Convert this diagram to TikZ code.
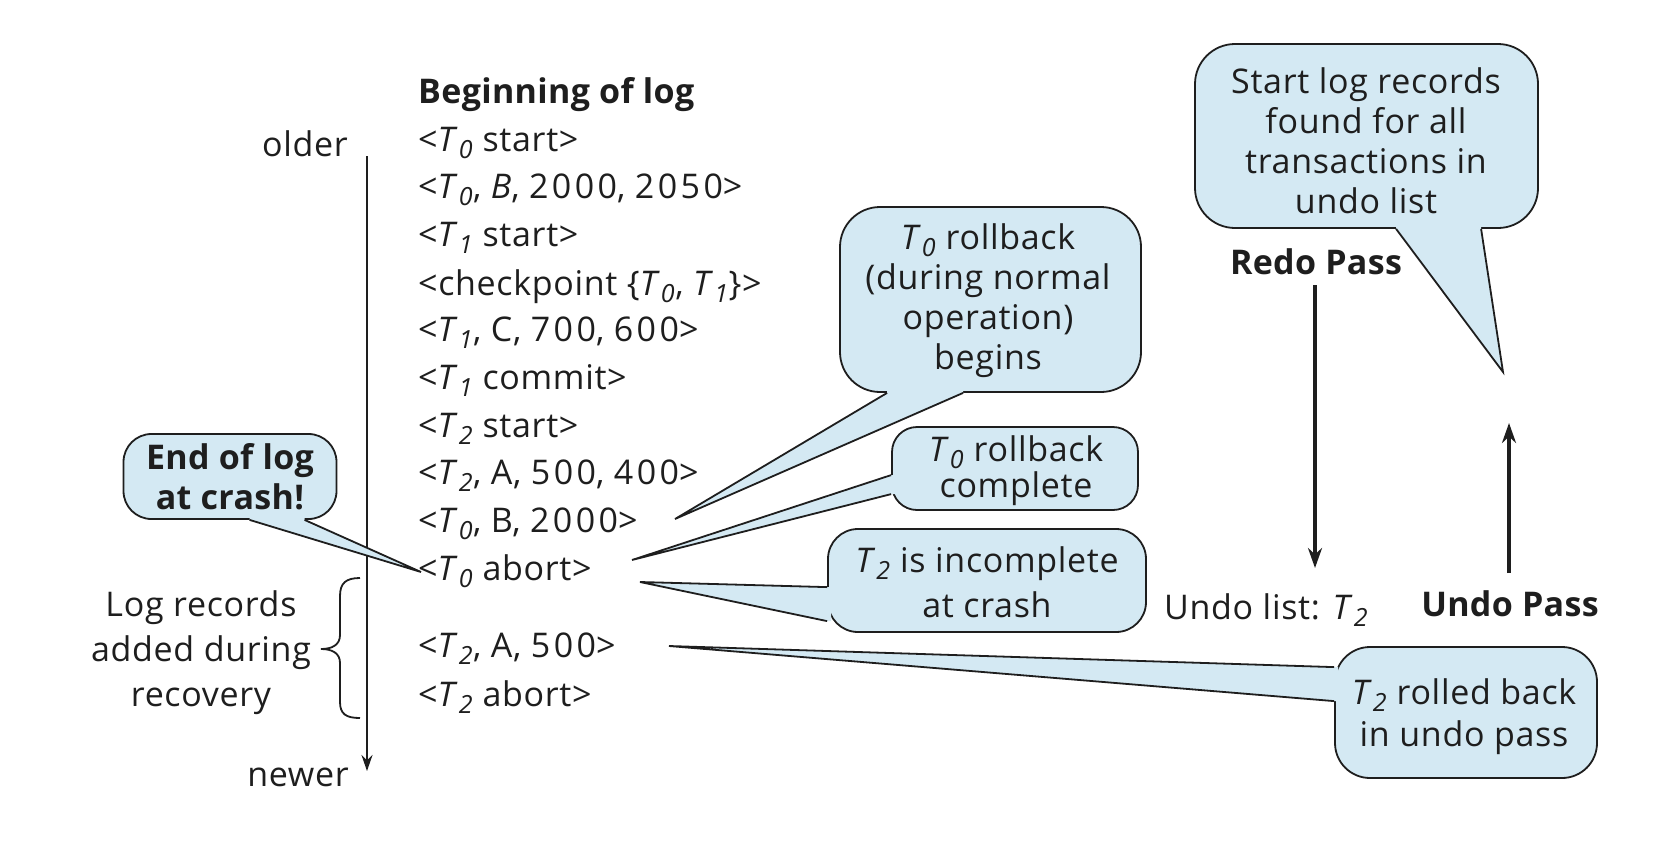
\documentclass[tikz,border=0pt]{standalone}
\usepackage{fontspec}
\setmainfont{Open Sans}[LetterSpace=2, BoldFeatures={LetterSpace=1}]
\usetikzlibrary{arrows.meta,calc}
\definecolor{callfill}{HTML}{D4E9F3}
\definecolor{ink}{HTML}{1E1E1E}
\newcommand{\Tx}[1]{\textit{T}\kern0.5pt\raisebox{-7pt}{\fontsize{25}{25}\selectfont\textit{#1}}}
\newcommand{\dg}[1]{{\addfontfeature{LetterSpace=10}#1}}
\newcommand{\callptr}[4]{%
  \fill[callfill] (#1) -- (#3) -- (#2) -- ($(#2)+#4$) -- ($(#1)+#4$) -- cycle;
  \draw[ptrline] (#1) -- (#3) -- (#2);}
\tikzset{
  call/.style={draw=ink, fill=callfill, line width=1.8pt, inner sep=0pt},
  ctext/.style={inner sep=0pt, align=center, text=ink},
  ptrline/.style={draw=ink, line width=1.8pt, line join=miter},
  logrec/.style={anchor=base west, inner sep=0pt, text=ink},
  lbl/.style={anchor=base, inner sep=0pt, text=ink},
  passarrow/.style={draw=ink, line width=3.5pt, -{Stealth[length=20pt,width=14pt]}},
}
\begin{document}
\begin{tikzpicture}[x=1pt,y=-1pt,font=\fontsize{34}{40}\selectfont]
\useasboundingbox[fill=white] (0,0) rectangle (1660,852);

% log records
\node[logrec] (beg) at (418,103) {\bfseries Beginning of log};
\node[logrec] (r1) at (418,151) {<\Tx{0} start>};
\node[logrec] (r2) at (418,198) {<\Tx{0}, \textit{B}, \dg{2000}, \dg{2050}>};
\node[logrec] (r3) at (418,246) {<\Tx{1} start>};
\node[logrec] (r4) at (418,295) {<checkpoint \{\Tx{0}, \Tx{1}\}>};
\node[logrec] (r5) at (418,341) {<\Tx{1}, C, \dg{700}, \dg{600}>};
\node[logrec] (r6) at (418,389) {<\Tx{1} commit>};
\node[logrec] (r7) at (418,437) {<\Tx{2} start>};
\node[logrec] (r8) at (418,484) {<\Tx{2}, A, \dg{500}, \dg{400}>};
\node[logrec] (r9) at (418,532) {<\Tx{0}, B, \dg{2000}>};
\node[logrec] (r10) at (418,580) {<\Tx{0} abort>};
\node[logrec] (r11) at (418,657) {<\Tx{2}, A, \dg{500}>};
\node[logrec] (r12) at (418,706) {<\Tx{2} abort>};

% timeline
\node[lbl] (older) at (305,156) {older};
\node[lbl] (newer) at (298,786) {newer};
\coordinate (tlTop) at (367,156);
\coordinate (tlBot) at (367,771);
\draw[draw=ink, line width=1.8pt, -{Stealth[length=16pt,width=11pt]}] (tlTop) -- (tlBot);

% brace and label
\draw[draw=ink, line width=1.8pt] (360,578) .. controls (346,578) and (340,583) .. (340,596) -- (340,635)
  .. controls (340,645) and (332,649) .. (321,649) .. controls (332,649) and (340,653) .. (340,663)
  -- (340,702) .. controls (340,714) and (346,718) .. (360,718);
\node[lbl] (lr1) at (201,616) {Log records};
\node[lbl] (lr2) at (201,661) {added during};
\node[lbl] (lr3) at (201,706) {recovery};

% right side
\node[lbl] (redo) at (1316,274) {\bfseries Redo Pass};
\node[logrec] (undolist) at (1164,619) {Undo list: \Tx{2}};
\node[lbl] (undo) at (1510,616) {\bfseries Undo Pass};
\coordinate (redoS) at (1315,285);
\coordinate (redoE) at (1315,568);
\coordinate (undoS) at (1509,573);
\coordinate (undoE) at (1509,423);
\draw[passarrow] (redoS) -- (redoE);
\draw[passarrow] (undoS) -- (undoE);

% callouts
\node[call, rounded corners=28pt, minimum width=213pt, minimum height=85pt] (endlog) at (230,476.5) {};
\coordinate (elA) at ($(endlog.south west)+(127,0)$);
\coordinate (elB) at ($(endlog.south west)+(182,0)$);
\coordinate (elT) at (421,572);
\callptr{elA}{elB}{elT}{(0,-4)}
\node[ctext] (endlogT) at (230,477) {\bfseries End of log\\\bfseries at crash!};

\node[call, rounded corners=40pt, minimum width=301pt, minimum height=185pt] (begins) at (990.5,299.5) {};
\coordinate (bgA) at ($(begins.south west)+(48,0)$);
\coordinate (bgB) at ($(begins.south west)+(124,0)$);
\coordinate (bgT) at (675,519);
\callptr{bgA}{bgB}{bgT}{(0,-4)}
\node[ctext] (beginsT) at (988,300.5) {\Tx{0} rollback\\(during normal\\operation)\\begins};

\node[call, rounded corners=25pt, minimum width=246pt, minimum height=83pt] (complete) at (1015,468.5) {};
\coordinate (cpA) at ($(complete.north west)+(0,49)$);
\coordinate (cpB) at ($(complete.north west)+(0,68)$);
\coordinate (cpT) at (632,560);
\callptr{cpA}{cpB}{cpT}{(4,0)}
\node[ctext, font=\fontsize{34}{36}\selectfont] (completeT) at (1016,470.5) {\Tx{0} rollback\\complete};

\node[call, rounded corners=30pt, minimum width=318pt, minimum height=103pt] (incomplete) at (987,580.5) {};
\coordinate (icA) at ($(incomplete.north west)+(0,59)$);
\coordinate (icB) at ($(incomplete.north west)+(0,93)$);
\coordinate (icT) at (640,582);
\callptr{icA}{icB}{icT}{(4,0)}
\node[ctext, font=\fontsize{34}{45}\selectfont] (incompleteT) at (987,582.5) {\Tx{2} is incomplete\\at crash};

\node[call, rounded corners=35pt, minimum width=262pt, minimum height=131pt] (rolled) at (1466,712.5) {};
\coordinate (rbA) at ($(rolled.north west)+(0,21)$);
\coordinate (rbB) at ($(rolled.north west)+(0,55)$);
\coordinate (rbT) at (669,646);
\callptr{rbA}{rbB}{rbT}{(4,0)}
\node[ctext, font=\fontsize{34}{42}\selectfont] (rolledT) at (1464,716.5) {\Tx{2} rolled back\\in undo pass};

\node[call, rounded corners=40pt, minimum width=343pt, minimum height=184pt] (startlog) at (1366.5,136) {};
\coordinate (slA) at ($(startlog.south west)+(202,0)$);
\coordinate (slB) at ($(startlog.south west)+(287,0)$);
\coordinate (slT) at (1503,372);
\callptr{slA}{slB}{slT}{(0,-4)}
\node[ctext] (startlogT) at (1366,141) {Start log records\\found for all\\transactions in\\undo list};
\end{tikzpicture}
\end{document}
